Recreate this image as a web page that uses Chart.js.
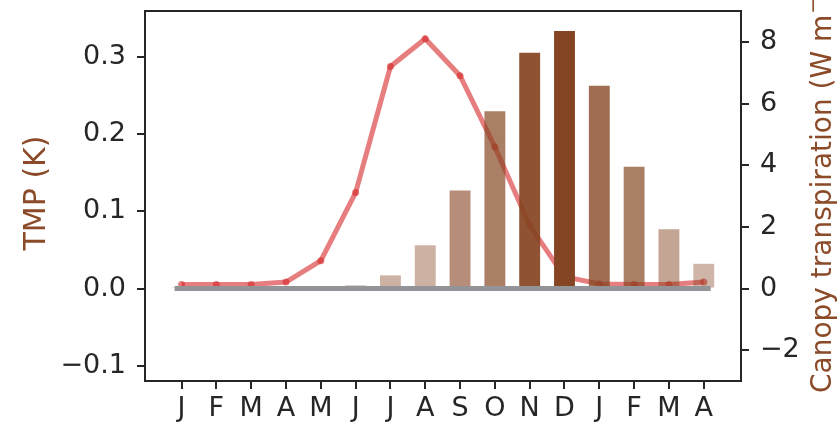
<!DOCTYPE html>
<html>
<head>
<meta charset="utf-8">
<script src="https://cdn.jsdelivr.net/npm/chart.js@4.4.0/dist/chart.umd.min.js"></script>
<style>
  html, body { margin: 0; padding: 0; background: #ffffff; }
  #wrap { width: 839px; height: 428px; position: relative; }
</style>
</head>
<body>
<div id="wrap"><canvas id="c" width="839" height="428"></canvas></div>
<script>
// ---- data ----
const months = ['J','F','M','A','M','J','J','A','S','O','N','D','J','F','M','A'];
const tmpValues = [0.001, 0.001, 0.001, 0.001, 0.001, 0.004, 0.017, 0.056, 0.127, 0.230, 0.306, 0.334, 0.263, 0.158, 0.077, 0.032];
const transpiration = [0.13, 0.13, 0.13, 0.21, 0.90, 3.11, 7.20, 8.10, 6.90, 4.59, 2.05, 0.38, 0.15, 0.13, 0.13, 0.21];
const leftTicks = [-0.1, 0.0, 0.1, 0.2, 0.3];
const rightTicks = [-2, 0, 2, 4, 6, 8];
const zeroLineX = [-0.2, 15.2];

// ---- style ----
const barAlpha = [0.40, 0.40, 0.40, 0.40, 0.40, 0.42, 0.41, 0.41, 0.61, 0.69, 0.93, 1.0, 0.785, 0.69, 0.49, 0.40];
const barBase = [134, 69, 34];
const barColors = barAlpha.map(a => `rgba(${barBase[0]},${barBase[1]},${barBase[2]},${a})`);
const tickColor = '#262626';
const labelColor = '#8b4a28';
const FONT = 'DejaVu Sans';

const boxPlugin = {
  id: 'boxAndTitles',
  afterDraw(chart) {
    const ctx = chart.ctx;
    const a = chart.chartArea;
    ctx.save();
    ctx.strokeStyle = tickColor;
    ctx.lineWidth = 2;
    ctx.strokeRect(a.left, a.top, a.right - a.left, a.bottom - a.top);
    // left title
    ctx.fillStyle = labelColor;
    ctx.font = `30px "${FONT}"`;
    ctx.translate(37, 193);
    ctx.rotate(-Math.PI / 2);
    ctx.textAlign = 'center';
    ctx.textBaseline = 'middle';
    ctx.fillText('TMP (K)', 0, 0);
    ctx.restore();
    // right title
    ctx.save();
    ctx.fillStyle = labelColor;
    ctx.translate(824, 393);
    ctx.rotate(-Math.PI / 2);
    ctx.textAlign = 'left';
    ctx.textBaseline = 'middle';
    ctx.font = `28px "${FONT}"`;
    const main = 'Canopy transpiration (W m';
    ctx.fillText(main, 0, 0);
    let w = ctx.measureText(main).width;
    ctx.font = `19px "${FONT}"`;
    ctx.fillText('\u22122', w + 1, -10);
    w += 1 + ctx.measureText('\u22122').width;
    ctx.font = `28px "${FONT}"`;
    ctx.fillText(')', w + 1, 0);
    ctx.restore();
  }
};

const fmtMinus = s => s.replace('-', '\u2212');
const noPad = s => { s.paddingTop = 0; s.paddingBottom = 0; s.paddingLeft = 0; s.paddingRight = 0; };

new Chart(document.getElementById('c'), {
  type: 'bar',
  data: {
    datasets: [
      {
        type: 'line',
        label: 'zero',
        data: zeroLineX.map(x => ({ x: x, y: 0 })),
        yAxisID: 'y',
        borderColor: '#939498',
        borderWidth: 5,
        pointRadius: 0,
        order: 0
      },
      {
        type: 'bar',
        label: 'TMP',
        data: tmpValues.map((v, i) => ({ x: i, y: v })),
        yAxisID: 'y',
        backgroundColor: barColors,
        borderWidth: 0,
        barPercentage: 0.6,
        categoryPercentage: 1.0,
        order: 1
      },
      {
        type: 'line',
        label: 'Canopy transpiration',
        data: transpiration.map((v, i) => ({ x: i, y: v })),
        yAxisID: 'y2',
        borderColor: 'rgba(214,39,40,0.6)',
        backgroundColor: 'rgba(214,39,40,0.6)',
        borderWidth: 5,
        pointRadius: 3.5,
        pointBorderWidth: 0,
        pointBackgroundColor: 'rgba(214,39,40,0.6)',
        tension: 0,
        order: 2
      }
    ]
  },
  options: {
    responsive: false,
    animation: false,
    devicePixelRatio: 1,
    layout: { padding: { top: 11, left: 0, right: 0, bottom: 0 } },
    plugins: { legend: { display: false }, tooltip: { enabled: false } },
    scales: {
      x: {
        type: 'linear',
        offset: false,
        min: -1.05,
        max: 16.07,
        afterBuildTicks: s => { s.ticks = months.map((m, i) => ({ value: i })); },
        afterFit: s => { s.height = 47; noPad(s); },
        ticks: {
          autoSkip: false,
          maxRotation: 0,
          color: tickColor,
          font: { family: FONT, size: 27 },
          padding: 4,
          callback: v => months[v]
        },
        grid: { offset: false, drawOnChartArea: false, drawTicks: true, tickLength: 8, color: tickColor, lineWidth: 2 },
        border: { display: false }
      },
      y: {
        type: 'linear',
        position: 'left',
        min: -0.12,
        max: 0.36,
        afterBuildTicks: s => { s.ticks = leftTicks.map(v => ({ value: v })); },
        afterFit: s => { s.width = 145; noPad(s); },
        ticks: {
          color: tickColor,
          font: { family: FONT, size: 27 },
          padding: 11,
          callback: v => fmtMinus(v.toFixed(1))
        },
        grid: { drawOnChartArea: false, drawTicks: true, tickLength: 8, color: tickColor, lineWidth: 2 },
        border: { display: false }
      },
      y2: {
        type: 'linear',
        position: 'right',
        min: -3,
        max: 9,
        afterBuildTicks: s => { s.ticks = rightTicks.map(v => ({ value: v })); },
        afterFit: s => { s.width = 98; noPad(s); },
        ticks: {
          color: tickColor,
          font: { family: FONT, size: 27 },
          padding: 11,
          callback: v => fmtMinus(String(v))
        },
        grid: { drawOnChartArea: false, drawTicks: true, tickLength: 8, color: tickColor, lineWidth: 2 },
        border: { display: false }
      }
    }
  },
  plugins: [boxPlugin]
});
</script>
</body>
</html>
